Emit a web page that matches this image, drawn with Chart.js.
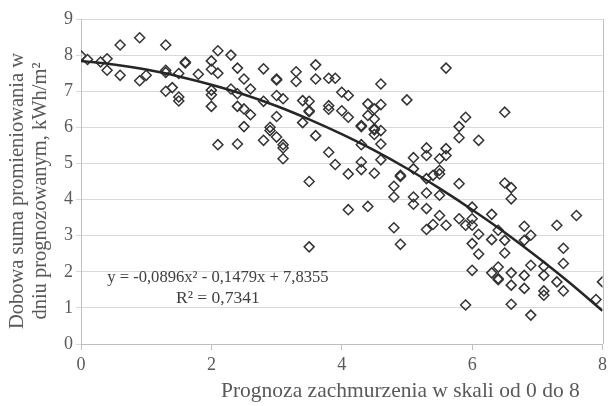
<!DOCTYPE html>
<html>
<head>
<meta charset="utf-8">
<script src="https://cdn.jsdelivr.net/npm/chart.js@4.4.1/dist/chart.umd.min.js"></script>
<style>
  html, body { margin: 0; padding: 0; background: #fff; }
  #wrap { width: 609px; height: 406px; }
</style>
</head>
<body>
<div id="wrap"><canvas id="chart"></canvas></div>
<script>
// prognoza zachmurzenia (0-8) i dobowa suma promieniowania, kWh/m2
const cloudX = [
  0, 0.1, 0.3, 0.4, 0.4, 0.6, 0.6, 0.9, 0.9, 1.0,
  1.3, 1.3, 1.3, 1.3, 1.4, 1.5, 1.5, 1.5, 1.6, 1.6,
  1.8, 2.0, 2.0, 2.0, 2.0, 2.0, 2.1, 2.1, 2.1, 2.3,
  2.3, 2.4, 2.4, 2.4, 2.4, 2.5, 2.5, 2.5, 2.6, 2.6,
  2.8, 2.8, 2.8, 2.9, 2.9, 3.0, 3.0, 3.0, 3.0, 3.0,
  3.1, 3.1, 3.1, 3.1, 3.3, 3.3, 3.4, 3.4, 3.5, 3.5,
  3.5, 3.5, 3.5, 3.6, 3.6, 3.6, 3.8, 3.8, 3.8, 3.8,
  3.9, 3.9, 4.0, 4.0, 4.1, 4.1, 4.1, 4.1, 4.3, 4.3,
  4.3, 4.3, 4.3, 4.4, 4.4, 4.4, 4.5, 4.5, 4.5, 4.5,
  4.5, 4.5, 4.6, 4.6, 4.6, 4.6, 4.6, 4.8, 4.8, 4.8,
  4.9, 4.9, 4.9, 5.0, 5.1, 5.1, 5.1, 5.1, 5.3, 5.3,
  5.3, 5.3, 5.3, 5.3, 5.4, 5.4, 5.5, 5.5, 5.5, 5.5,
  5.5, 5.6, 5.6, 5.6, 5.6, 5.8, 5.8, 5.8, 5.8, 5.9,
  5.9, 5.9, 6.0, 6.0, 6.0, 6.0, 6.0, 6.1, 6.1, 6.1,
  6.3, 6.3, 6.3, 6.4, 6.4, 6.4, 6.4, 6.5, 6.5, 6.5,
  6.5, 6.6, 6.6, 6.6, 6.6, 6.6, 6.8, 6.8, 6.8, 6.8,
  6.9, 6.9, 6.9, 7.1, 7.1, 7.1, 7.1, 7.3, 7.3, 7.4,
  7.4, 7.4, 7.6, 7.9, 8.0
];
const radiationY = [
  7.98, 7.88, 7.81, 7.90, 7.58, 8.28, 7.44, 8.48, 7.29, 7.44,
  8.28, 7.58, 7.52, 7.00, 7.10, 6.84, 6.73, 7.49, 7.81, 7.78,
  7.47, 7.84, 7.61, 7.03, 6.90, 6.58, 8.12, 7.50, 5.52, 8.00,
  7.06, 7.64, 6.93, 6.58, 5.54, 7.34, 6.51, 6.02, 7.06, 6.35,
  7.62, 6.72, 5.64, 6.00, 5.91, 7.34, 7.31, 6.88, 6.30, 5.73,
  6.79, 5.52, 5.43, 5.13, 7.54, 7.27, 6.74, 6.13, 6.72, 6.46,
  6.43, 4.50, 2.69, 7.73, 7.34, 5.77, 7.36, 6.60, 6.50, 5.31,
  7.36, 4.97, 6.97, 6.46, 6.88, 6.28, 4.71, 3.72, 6.05, 6.02,
  5.52, 5.04, 4.83, 6.65, 6.33, 3.81, 6.51, 6.23, 5.96, 5.93,
  5.80, 4.73, 7.20, 6.63, 5.91, 5.54, 5.10, 4.37, 4.07, 3.22,
  4.67, 4.64, 2.76, 6.76, 5.16, 4.85, 4.07, 3.87, 5.43, 5.22,
  4.58, 4.18, 3.75, 3.17, 4.67, 3.31, 5.13, 4.81, 4.71, 4.12,
  3.56, 7.64, 5.41, 5.22, 3.29, 6.02, 5.71, 4.44, 3.47, 6.28,
  3.29, 1.08, 3.79, 3.47, 3.29, 2.78, 2.04, 5.64, 3.04, 2.49,
  3.59, 2.89, 1.97, 3.15, 2.13, 1.81, 1.78, 6.42, 4.46, 2.87,
  2.52, 4.33, 4.02, 1.97, 1.63, 1.10, 3.26, 2.87, 1.90, 1.54,
  3.01, 2.18, 0.80, 2.15, 1.90, 1.47, 1.35, 3.29, 1.72, 2.65,
  2.23, 1.47, 3.56, 1.23, 1.72
];

// linia trendu (wielomian 2. stopnia)
const trendX = [0, 0.5, 1, 1.5, 2, 2.5, 3, 3.5, 4, 4.5, 5, 5.5, 6, 6.5, 7, 7.5, 8];
const trendY = [7.84, 7.74, 7.60, 7.41, 7.18, 6.91, 6.59, 6.22, 5.81, 5.36, 4.86, 4.31, 3.72, 3.09, 2.41, 1.69, 0.92];

const equationLines = ['y = -0,0896x² - 0,1479x + 7,8355', 'R² = 0,7341'];
const xTitle = 'Prognoza zachmurzenia w skali od 0 do 8';
const yTitle = ['Dobowa suma promieniowania w', 'dniu prognozowanym, kWh/m²'];

const serif = '"Liberation Serif", "Times New Roman", serif';
const textGrey = '#595959';

const points = cloudX.map((x, i) => ({ x: x, y: radiationY[i] }));
const trend = trendX.map((x, i) => ({ x: x, y: trendY[i] }));

const extraText = {
  id: 'extraText',
  beforeDatasetsDraw(chart) {
    const { ctx, chartArea } = chart;
    // prawa krawedz obszaru wykresu
    ctx.save();
    ctx.strokeStyle = '#bfbfbf';
    ctx.lineWidth = 1;
    ctx.beginPath();
    ctx.moveTo(Math.round(chartArea.right) + 0.5, chartArea.top);
    ctx.lineTo(Math.round(chartArea.right) + 0.5, chartArea.bottom);
    ctx.stroke();
    ctx.restore();
  },
  afterDraw(chart) {
    const { ctx, scales } = chart;
    ctx.save();
    ctx.textAlign = 'center';
    ctx.textBaseline = 'middle';
    ctx.fillStyle = '#404040';
    ctx.font = '16.6px ' + serif;
    ctx.fillText(equationLines[0], scales.x.getPixelForValue(2.1), scales.y.getPixelForValue(1.84));
    ctx.font = '17.5px ' + serif;
    ctx.fillText(equationLines[1], scales.x.getPixelForValue(2.1), scales.y.getPixelForValue(1.26));

    ctx.fillStyle = textGrey;
    ctx.font = '21.5px ' + serif;
    ctx.fillText(xTitle, scales.x.getPixelForValue(4.9), chart.height - 15);

    // tytul osi Y, dwie linie obrocone
    ctx.font = '20.5px ' + serif;
    ctx.translate(0, 191);
    ctx.rotate(-Math.PI / 2);
    ctx.fillText(yTitle[0], 0, 18);
    ctx.fillText(yTitle[1], 0, 41);
    ctx.restore();
  }
};

new Chart(document.getElementById('chart'), {
  type: 'scatter',
  data: {
    datasets: [
      {
        type: 'line',
        label: 'trend',
        data: trend,
        borderColor: '#262626',
        borderWidth: 2.5,
        pointRadius: 0,
        fill: false,
        cubicInterpolationMode: 'monotone',
        order: 0
      },
      {
        label: 'pomiary',
        data: points,
        pointStyle: 'rectRot',
        pointRadius: 5,
        pointBorderWidth: 1.5,
        pointBorderColor: '#333333',
        pointBackgroundColor: 'rgba(0,0,0,0)',
        order: 1
      }
    ]
  },
  plugins: [extraText],
  options: {
    responsive: true,
    maintainAspectRatio: false,
    animation: false,
    layout: { padding: { top: 19, right: 6, left: 0, bottom: 0 } },
    plugins: { legend: { display: false }, tooltip: { enabled: false } },
    scales: {
      x: {
        type: 'linear',
        min: 0,
        max: 8,
        ticks: { stepSize: 2, color: textGrey, font: { family: serif, size: 18 }, padding: 4 },
        grid: { drawOnChartArea: false, drawTicks: true, tickLength: 6, color: '#bfbfbf' },
        border: { color: '#bfbfbf' },
        afterFit(s) { s.height = 62; s.paddingLeft = 0; s.paddingRight = 0; }
      },
      y: {
        min: 0,
        max: 9,
        ticks: { stepSize: 1, color: textGrey, font: { family: serif, size: 18 }, padding: 3 },
        grid: { color: '#d9d9d9', tickLength: 5 },
        border: { color: '#bfbfbf' },
        afterFit(s) { s.width = 81; }
      }
    }
  }
});
</script>
</body>
</html>
